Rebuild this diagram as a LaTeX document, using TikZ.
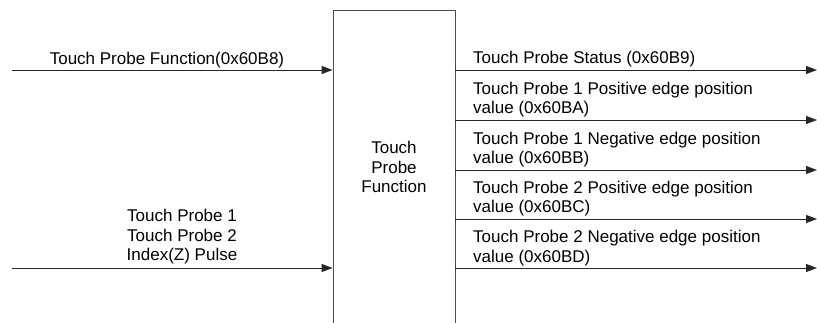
\documentclass[tikz,border=0pt]{standalone}
\usepackage{fontspec}
\setmainfont{Liberation Sans}
\usetikzlibrary{arrows.meta}
\begin{document}
\begin{tikzpicture}[x=1pt,y=-1pt,
  every node/.style={font=\fontsize{17}{19.5}\selectfont, inner sep=0pt, text=black},
  conn/.style={draw=black!85, line width=0.9pt, -{Triangle[length=11pt,width=8pt]}},
  lbl/.style={anchor=base west, align=left},
  fbox/.style={draw=black!70, line width=0.8pt, minimum width=122pt, minimum height=330pt}]
\useasboundingbox (0,0) rectangle (817,323);
\clip (0,0) rectangle (817,323);
\node[fbox] (fn) at (394,175) {};
\node[align=center] (fnt) at (394,167) {Touch\\Probe\\Function};
% inputs
\coordinate (i1) at (12,70);
\coordinate (i2) at (12,268);
\draw[conn] (i1) -- (fn.west |- i1);
\draw[conn] (i2) -- (fn.west |- i2);
\node[anchor=base] (li1) at (167,65) {Touch Probe Function(0x60B8)};
\node[anchor=base, align=center] (li2) at (182,261) {Touch Probe 1\\Touch Probe 2\\Index(Z) Pulse};
% outputs
\coordinate (o1) at (817,70);
\coordinate (o2) at (817,120);
\coordinate (o3) at (817,170);
\coordinate (o4) at (817,219);
\coordinate (o5) at (817,268);
\foreach \o in {o1,o2,o3,o4,o5} \draw[conn] (fn.east |- \o) -- (\o);
\node[lbl] (l1) at (473,64) {Touch Probe Status (0x60B9)};
\node[lbl] (l2) at (473,114) {Touch Probe 1 Positive edge position\\value (0x60BA)};
\node[lbl] (l3) at (473,164) {Touch Probe 1 Negative edge position\\value (0x60BB)};
\node[lbl] (l4) at (473,213) {Touch Probe 2 Positive edge position\\value (0x60BC)};
\node[lbl] (l5) at (473,262) {Touch Probe 2 Negative edge position\\value (0x60BD)};
\end{tikzpicture}
\end{document}
